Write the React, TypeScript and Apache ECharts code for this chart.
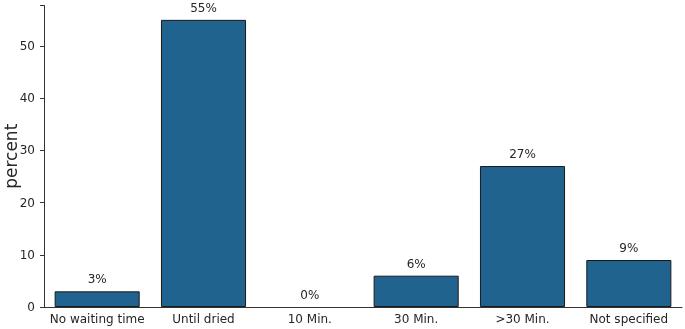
import React, { useEffect, useRef } from "react";
import * as echarts from "echarts";

const categories = ["No waiting time", "Until dried", "10 Min.", "30 Min.", ">30 Min.", "Not specified"];
const values = [3, 55, 0, 6, 27, 9];
const yTicks = [0, 10, 20, 30, 40, 50];

export default function App() {
  const ref = useRef<HTMLDivElement>(null);
  useEffect(() => {
    const chart = echarts.init(ref.current!, null, { renderer: "svg" });
    const font = "DejaVu Sans";
    chart.setOption({
      animation: false,
      grid: { left: 44, right: 3, top: 5.5, bottom: 22, containLabel: false, outerBoundsMode: "none" },
      xAxis: {
        type: "category",
        data: categories,
        boundaryGap: true,
        axisLine: { lineStyle: { color: "#333", width: 1 } },
        axisTick: { alignWithLabel: true, length: 4, lineStyle: { color: "#333" } },
        axisLabel: { color: "#262626", fontFamily: font, fontSize: 12, margin: 6, interval: 0 },
      },
      yAxis: {
        type: "value",
        min: 0,
        max: 57.75,
        interval: 10,
        name: "percent",
        nameLocation: "middle",
        nameRotate: 90,
        nameGap: 25,
        nameMoveOverlap: false,
        nameTextStyle: { fontFamily: font, fontSize: 17, color: "#262626" },
        splitLine: { show: false },
        axisLine: { show: true, lineStyle: { color: "#333", width: 1 } },
        axisTick: { show: true, length: 4, lineStyle: { color: "#333" } },
        axisLabel: {
          color: "#262626",
          fontFamily: font,
          fontSize: 12,
          margin: 9,
          formatter: (v: number) => (yTicks.includes(v) ? String(v) : ""),
        },
      },
      series: [
        {
          type: "bar",
          data: values.map((v) => ({
            value: v,
            itemStyle: v === 0 ? { borderWidth: 0 } : undefined,
          })),
          barWidth: "80%",
          itemStyle: { color: "#21638f", borderColor: "#1a1a1a", borderWidth: 1 },
          label: {
            show: true,
            position: "top",
            distance: 6,
            formatter: (p: any) => `${p.value}%`,
            fontFamily: font,
            fontSize: 12,
            color: "#262626",
          },
        },
      ],
    });
    return () => chart.dispose();
  }, []);
  return <div ref={ref} style={{ position: "fixed", left: 0, top: 0, width: 685, height: 329 }} />;
}
